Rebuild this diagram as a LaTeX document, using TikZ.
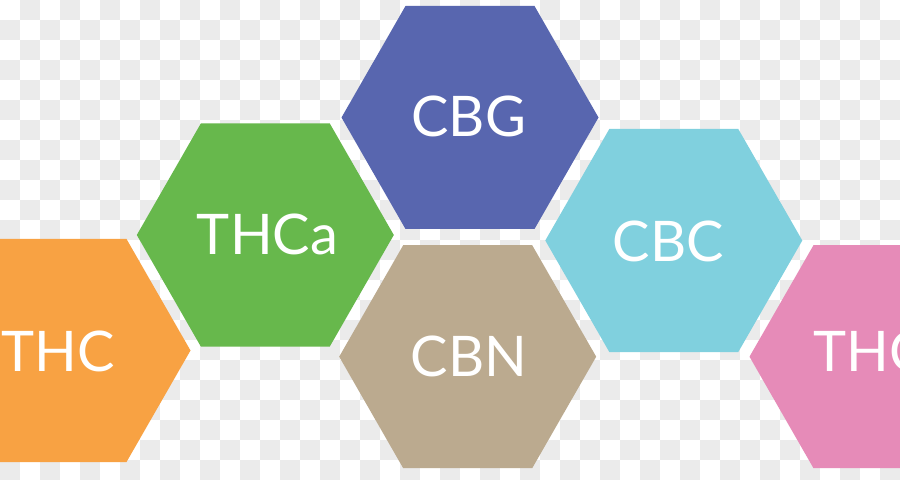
\documentclass[tikz,border=0pt]{standalone}
\usepackage{fontspec}
\setmainfont{Lato}
\definecolor{checkgray}{HTML}{EBEBEB}
\definecolor{cbgblue}{HTML}{5866AF}
\definecolor{thcagreen}{HTML}{67B84C}
\definecolor{thcorange}{HTML}{F8A243}
\definecolor{cbntan}{HTML}{BBAA8F}
\definecolor{cbccyan}{HTML}{80D0DE}
\definecolor{thcpink}{HTML}{E68BB8}
\tikzset{
  hexlabel/.style={text=white, font=\fontsize{56}{60}\selectfont, anchor=base, inner sep=0pt},
}
\newcommand{\hexshape}[3]{% color, cx, cy
  \fill[#1] (#2pt+128.5pt,#3pt) -- (#2pt+64.5pt,#3pt+111.5pt) -- (#2pt-64.5pt,#3pt+111.5pt)
    -- (#2pt-128.5pt,#3pt) -- (#2pt-64.5pt,#3pt-111.5pt) -- (#2pt+64.5pt,#3pt-111.5pt) -- cycle;}
\begin{document}
\begin{tikzpicture}[x=1pt,y=1pt]
\useasboundingbox (0,0) rectangle (900,480);
\clip (0,0) rectangle (900,480);
\fill[white] (0,0) rectangle (900,480);
% checkerboard background
\foreach \j in {0,...,23}{
  \pgfmathtruncatemacro\s{mod(\j+1,2)}
  \foreach \i in {0,...,22}{
    \fill[checkgray] (40*\i+20*\s, 460-20*\j) rectangle ++(20,20);
  }
}
% hexagons
\hexshape{thcorange}{62}{129.5}
\hexshape{thcagreen}{265.3}{245}
\hexshape{cbgblue}{470}{362.5}
\hexshape{cbntan}{467.7}{123.3}
\hexshape{cbccyan}{673.8}{239.5}
\hexshape{thcpink}{878}{123.3}
% labels
\node[hexlabel] (thc) at (58,108.3) {THC};
\node[hexlabel] (thca) at (267.5,225) {THCa};
\node[hexlabel] (cbg) at (468.8,343.3) {CBG};
\node[hexlabel] (cbn) at (468.8,103.3) {CBN};
\node[hexlabel] (cbc) at (668.3,218.3) {CBC};
\node[hexlabel] (thc2) at (870,108.3) {THC};
\end{tikzpicture}
\end{document}
